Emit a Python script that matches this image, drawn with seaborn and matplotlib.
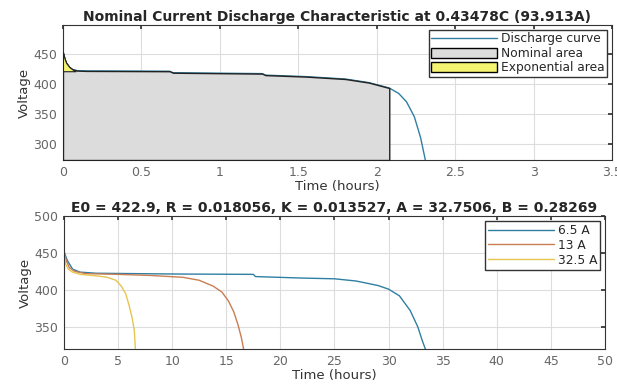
import matplotlib
matplotlib.use("Agg")
import matplotlib.pyplot as plt
import seaborn as sns
import pandas as pd
from matplotlib.patches import Patch
from matplotlib.lines import Line2D

sns.set_theme(style="whitegrid")
plt.rcParams['font.family'] = ['DejaVu Sans']

# nominal discharge curve (top panel)
nom_time = [0, 0.01, 0.02, 0.04, 0.06, 0.09, 0.15, 0.68, 0.70, 1.27, 1.29, 1.55,
            1.8, 1.95, 2.08, 2.14, 2.19, 2.24, 2.28, 2.31]
nom_volt = [452, 442, 435, 428, 424, 422, 421.5, 421, 418.5, 417, 414.5, 412,
            408, 402, 393, 384, 370, 345, 310, 273]
t_nominal = 2.08
t_exponential = 0.08
v_exp_level = 421

# discharge curves at several currents (bottom panel)
t_65 = [0, 0.3, 0.8, 1.5, 3, 10, 17.5, 17.7, 22, 25, 27, 29, 30, 31, 32, 32.7, 33.1, 33.4]
v_65 = [452, 440, 428, 424, 422.5, 421.5, 421, 418, 416, 415, 412, 406, 401, 392, 372, 350, 332, 320]
t_13 = [0, 0.2, 0.5, 1, 2, 5, 8, 11, 12.5, 13.8, 14.6, 15.2, 15.7, 16.1, 16.4, 16.6]
v_13 = [452, 440, 430, 425, 422, 421, 419.5, 417, 413, 405, 397, 385, 370, 352, 335, 320]
t_325 = [0, 0.15, 0.4, 0.8, 1.5, 3, 4, 4.8, 5.3, 5.7, 6.0, 6.3, 6.5, 6.6]
v_325 = [448, 435, 428, 424, 421, 419, 417, 413, 405, 395, 380, 362, 345, 320]
labels = ["6.5 A", "13 A", "32.5 A"]

c_blue = "#2f7fa3"
c_orange = "#c97e52"
c_yellow = "#e6c550"
tick_col = "#666666"

fig = plt.figure(figsize=(6.17, 3.85), dpi=100)
ax1 = fig.add_axes([0.1021, 0.5844, 0.8898, 0.3506])
ax2 = fig.add_axes([0.1037, 0.0935, 0.8768, 0.3455])

# ---- top panel
top = pd.DataFrame({"t": nom_time, "v": nom_volt})
sns.lineplot(data=top, x="t", y="v", ax=ax1, color=c_blue, lw=1.0,
             estimator=None, sort=False, zorder=2)
mask = [t <= t_nominal for t in nom_time]
tn = [t for t, m in zip(nom_time, mask) if m]
vn = [v for v, m in zip(nom_volt, mask) if m]
ax1.fill_between(tn, vn, 273, color="#dcdcdc", edgecolor="#222222", lw=1.0, zorder=3)
me = [t <= t_exponential for t in nom_time]
te = [t for t, m in zip(nom_time, me) if m] + [t_exponential]
ve = [v for v, m in zip(nom_volt, me) if m] + [v_exp_level]
ax1.fill_between(te, ve, v_exp_level, color="#f4f470", edgecolor="#222222", lw=0.8, zorder=4)
ax1.set_xlim(0, 3.5)
ax1.set_ylim(273, 498)
ax1.set_xticks([0, 0.5, 1, 1.5, 2, 2.5, 3, 3.5])
ax1.set_xticklabels(["0", "0.5", "1", "1.5", "2", "2.5", "3", "3.5"])
ax1.set_yticks([300, 350, 400, 450])
ax1.set_title("Nominal Current Discharge Characteristic at 0.43478C (93.913A)",
              fontsize=10, fontweight="bold", pad=3)
ax1.set_xlabel("Time (hours)", fontsize=9.5, labelpad=1, color="#333333")
ax1.set_ylabel("Voltage", fontsize=9.5, labelpad=2, color="#333333")
h1 = [Line2D([0], [0], color=c_blue, lw=1.0),
      Patch(facecolor="#dcdcdc", edgecolor="black"),
      Patch(facecolor="#f4f470", edgecolor="black")]
ax1.legend(h1, ["Discharge curve", "Nominal area", "Exponential area"],
           loc="upper right", fontsize=8.8, frameon=True, fancybox=False,
           edgecolor="#333333", framealpha=1, borderpad=0.2, labelspacing=0.12,
           handlelength=5.4, handleheight=0.9, handletextpad=0.3, borderaxespad=0.4)

# ---- bottom panel
for t, v, col, lab in zip([t_65, t_13, t_325], [v_65, v_13, v_325],
                          [c_blue, c_orange, c_yellow], labels):
    sns.lineplot(x=t, y=v, ax=ax2, color=col, lw=1.0, estimator=None,
                 sort=False, label=lab)
ax2.set_xlim(0, 50)
ax2.set_ylim(320, 500)
ax2.set_xticks(range(0, 51, 5))
ax2.set_yticks([350, 400, 450, 500])
ax2.set_title("E0 = 422.9, R = 0.018056, K = 0.013527, A = 32.7506, B = 0.28269",
              fontsize=10, fontweight="bold", pad=3)
ax2.set_xlabel("Time (hours)", fontsize=9.5, labelpad=1, color="#333333")
ax2.set_ylabel("Voltage", fontsize=9.5, labelpad=2, color="#333333")
ax2.legend(loc="upper right", fontsize=8.8, frameon=True, fancybox=False,
           edgecolor="#333333", framealpha=1, borderpad=0.25, labelspacing=0.15,
           handlelength=5.4, handletextpad=0.3, borderaxespad=0.4)

for ax in (ax1, ax2):
    ax.grid(True, color="#dddddd", lw=0.8)
    ax.set_axisbelow(True)
    ax.tick_params(direction="in", length=3, top=True, right=True,
                   labelsize=9, labelcolor=tick_col, color="#333333", pad=4)
    for s in ax.spines.values():
        s.set_color("#333333")
        s.set_linewidth(0.8)

fig.savefig("out.png", dpi=100)
